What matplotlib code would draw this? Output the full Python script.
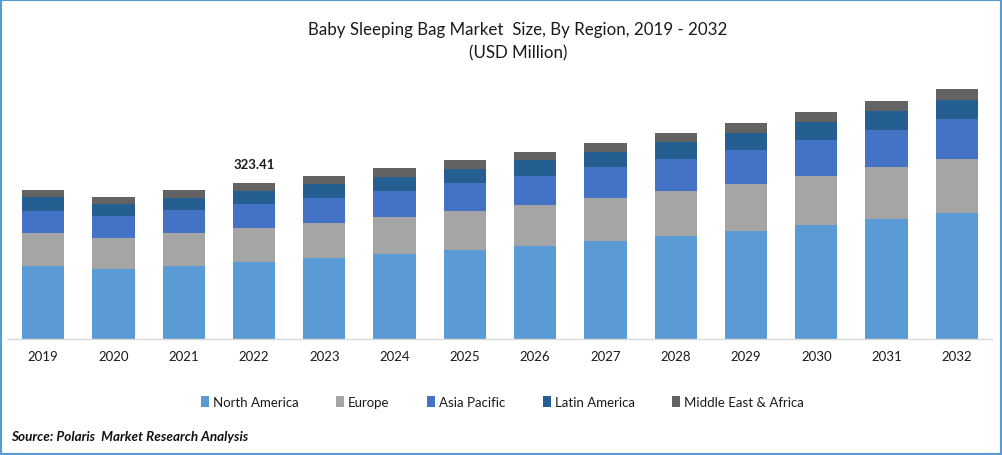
import matplotlib
matplotlib.use("Agg")
import matplotlib.pyplot as plt
from matplotlib.patches import Rectangle
import numpy as np

plt.rcParams['font.family'] = ['Lato', 'DejaVu Sans']

years = [str(y) for y in range(2019, 2033)]
north_america = [151.3, 145.1, 151.3, 159.6, 167.9, 176.2, 184.5, 192.8, 203.2, 213.5, 223.9, 236.3, 248.8, 261.2]
europe = [68.4, 64.3, 68.4, 70.5, 72.6, 76.7, 80.8, 85.0, 89.1, 93.3, 97.4, 101.6, 107.8, 111.9]
asia_pacific = [45.6, 45.6, 47.7, 49.8, 51.8, 53.9, 58.0, 60.1, 64.3, 66.3, 70.5, 74.6, 76.7, 82.9]
latin_america = [29.0, 24.9, 24.9, 26.9, 29.0, 29.0, 29.0, 33.2, 31.1, 35.2, 35.2, 37.3, 39.4, 39.4]
mea = [14.5, 14.5, 16.6, 16.6, 16.6, 18.7, 18.7, 16.6, 18.7, 18.7, 20.7, 20.7, 20.7, 22.8]
series = [
    ("North America", north_america, "#5B9BD5"),
    ("Europe", europe, "#A5A5A5"),
    ("Asia Pacific", asia_pacific, "#4472C4"),
    ("Latin America", latin_america, "#255E91"),
    ("Middle East & Africa", mea, "#636363"),
]
label_year = "2022"
label_text = "323.41"

W, H = 1002, 456
fig = plt.figure(figsize=(W / 100, H / 100), dpi=100)
ax = fig.add_axes([8 / W, 1 - 340 / H, 984 / W, 279 / H])

x = np.arange(len(years))
bottom = np.zeros(len(years))
handles = []
for name, vals, col in series:
    b = ax.bar(x, vals, 0.6, bottom=bottom, color=col, label=name, linewidth=0)
    handles.append(b)
    bottom = bottom + np.array(vals)

i = years.index(label_year)
ax.text(x[i], bottom[i] + 27, label_text, ha="center", va="bottom",
        fontsize=9.5, fontweight="bold", color="#1a1a1a")

ax.set_xlim(-0.5, len(years) - 0.5)
ax.set_ylim(0, 279 * 2.073)
ax.set_xticks(x, years)
ax.set_yticks([])
ax.tick_params(axis="x", length=0, pad=8, labelsize=9.5, labelcolor="#1a1a1a")
for s in ["top", "left", "right"]:
    ax.spines[s].set_visible(False)
ax.spines["bottom"].set_color("#D9D9D9")
ax.spines["bottom"].set_linewidth(1.0)

fig.text(518 / W, 1 - 30 / H, "Baby Sleeping Bag Market  Size, By Region, 2019 - 2032",
         ha="center", va="center", fontsize=12.2, color="#1a1a1a")
fig.text(518 / W, 1 - 53 / H, "(USD Million)", ha="center", va="center",
         fontsize=12.2, color="#1a1a1a")

fig.legend(handles=handles, loc="center", bbox_to_anchor=(502.5 / W, 1 - 403 / H), ncols=5,
           frameon=False, fontsize=9.5, handlelength=0.6, handleheight=0.85,
           handletextpad=0.3, columnspacing=2.85, labelcolor="#1a1a1a")

fig.text(11 / W, 1 - 437 / H, "Source: Polaris  Market Research Analysis", ha="left", va="center",
         fontsize=9.7, fontweight="bold", fontstyle="italic", color="#111111")

fig.add_artist(Rectangle((0, 0), 1, 1, transform=fig.transFigure, fill=False,
                         edgecolor="#5B9BD5", linewidth=3))
fig.savefig("out.png", dpi=100)
